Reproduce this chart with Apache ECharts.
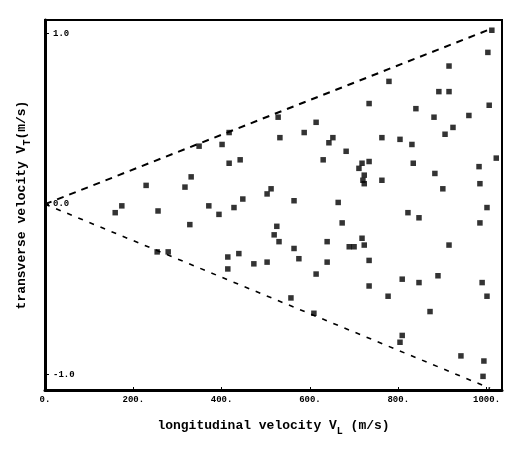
<!DOCTYPE html>
<html>
<head>
<meta charset="utf-8">
<script src="https://cdn.jsdelivr.net/npm/echarts@6/dist/echarts.min.js"></script>
<style>
  html, body { margin: 0; padding: 0; background: #fff; }
  #chart { width: 512px; height: 449px; }
</style>
</head>
<body>
<div id="chart"></div>
<script>
// longitudinal velocity (m/s) and transverse velocity (m/s) of each measured point
const vl = [229, 174, 159, 256, 254, 279, 349, 401, 417, 417, 442, 331, 317, 371, 394, 448, 428, 328,
  512, 503, 414, 439, 414, 473, 503, 1012, 1003, 915, 779, 892, 915, 734, 840, 1006, 960, 528, 881,
  614, 924, 587, 906, 532, 652, 643, 763, 804, 831, 682, 1022, 630, 718, 734, 834, 711, 983, 723,
  883, 720, 723, 763, 985, 901, 564, 664, 1001, 822, 847, 525, 673, 985, 519, 530, 564, 575, 639,
  639, 614, 689, 700, 718, 723, 734, 734, 557, 609, 777, 809, 847, 890, 872, 915, 990, 1001, 809,
  804, 942, 994, 992];
const vt = [0.11, -0.01, -0.05, -0.04, -0.28, -0.28, 0.34, 0.35, 0.42, 0.24, 0.26, 0.16, 0.10, -0.01,
  -0.06, 0.03, -0.02, -0.12, 0.09, 0.06, -0.31, -0.29, -0.38, -0.35, -0.34, 1.02, 0.89, 0.81, 0.72,
  0.66, 0.66, 0.59, 0.56, 0.58, 0.52, 0.51, 0.51, 0.48, 0.45, 0.42, 0.41, 0.39, 0.39, 0.36, 0.39,
  0.38, 0.35, 0.31, 0.27, 0.26, 0.24, 0.25, 0.24, 0.21, 0.22, 0.17, 0.18, 0.14, 0.12, 0.14, 0.12,
  0.09, 0.02, 0.01, -0.02, -0.05, -0.08, -0.13, -0.11, -0.11, -0.18, -0.22, -0.26, -0.32, -0.22,
  -0.34, -0.41, -0.25, -0.25, -0.20, -0.24, -0.33, -0.48, -0.55, -0.64, -0.54, -0.44, -0.46, -0.42,
  -0.63, -0.24, -0.46, -0.54, -0.77, -0.81, -0.89, -0.92, -1.01];

// dashed boundary lines from the origin
const upperLine = [[0, 0], [1012, 1.03]];
const lowerLine = [[0, 0], [1008, -1.08]];

const xTicks = [0, 200, 400, 600, 800, 1000];
const yTicks = [-1, 0, 1];

const points = vl.map((v, i) => [v, vt[i]]);

const font = "'Liberation Mono', 'DejaVu Sans Mono', monospace";

const options = {
  backgroundColor: '#fff',
  animation: false,
  grid: {
    left: 45,
    right: 10,
    top: 20,
    bottom: 59,
    show: true,
    borderColor: '#000',
    borderWidth: 2,
  },
  xAxis: {
    type: 'value',
    min: 0,
    max: 1035,
    name: 'longitudinal velocity V{sub|L} (m/s)',
    nameLocation: 'middle',
    nameGap: 26,
    nameTextStyle: {
      fontFamily: font,
      fontWeight: 'bold',
      fontSize: 13,
      color: '#000',
      rich: {
        sub: { fontFamily: font, fontWeight: 'bold', fontSize: 10, color: '#000', padding: [10, 0, 0, 0] },
      },
    },
    axisLine: { onZero: false, lineStyle: { color: '#000', width: 3 } },
    axisTick: { customValues: xTicks, inside: true, length: 3, lineStyle: { color: '#000' } },
    axisLabel: {
      customValues: xTicks,
      formatter: (v) => `${v}.`,
      fontFamily: font,
      fontWeight: 'bold',
      fontSize: 9,
      color: '#000',
      margin: 5,
    },
    splitLine: { show: false },
  },
  yAxis: {
    type: 'value',
    min: -1.09,
    max: 1.08,
    name: 'transverse velocity V{sub|T}(m/s)',
    nameLocation: 'middle',
    nameGap: 13,
    nameTextStyle: {
      fontFamily: font,
      fontWeight: 'bold',
      fontSize: 13,
      color: '#000',
      rich: {
        sub: { fontFamily: font, fontWeight: 'bold', fontSize: 10, color: '#000', padding: [10, 0, 0, 0] },
      },
    },
    axisLine: { onZero: false, lineStyle: { color: '#000', width: 3 } },
    axisTick: { customValues: yTicks, inside: true, length: 4, lineStyle: { color: '#000' } },
    axisLabel: {
      customValues: yTicks,
      inside: true,
      formatter: (v) => v.toFixed(1),
      fontFamily: font,
      fontWeight: 'bold',
      fontSize: 9,
      color: '#000',
      margin: 8,
    },
    splitLine: { show: false },
  },
  series: [
    {
      type: 'line',
      data: upperLine,
      symbol: 'none',
      lineStyle: { color: '#000', width: 2, type: [7, 6] },
    },
    {
      type: 'line',
      data: lowerLine,
      symbol: 'none',
      lineStyle: { color: '#000', width: 1.6, type: [5, 7] },
    },
    {
      type: 'scatter',
      data: points,
      symbol: 'rect',
      symbolSize: 5.5,
      itemStyle: { color: '#000' },
    },
  ],
};

const myChart = echarts.init(document.getElementById('chart'));
myChart.setOption(options);
</script>
</body>
</html>
